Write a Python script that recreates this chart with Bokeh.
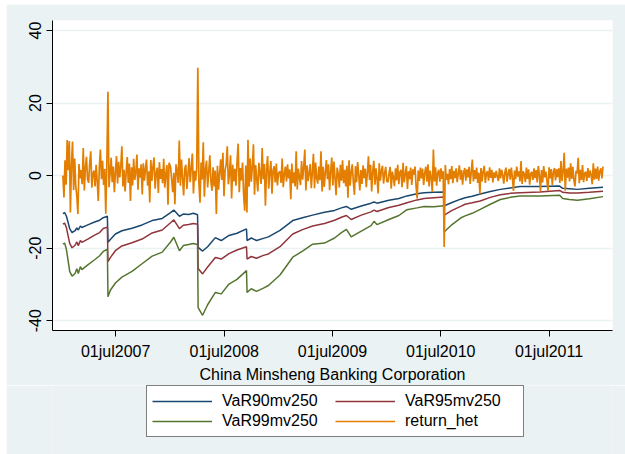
import pandas as pd
from bokeh.plotting import figure
from bokeh.layouts import column
from bokeh.models import ColumnDataSource, Range1d, FixedTicker, Legend, LegendItem
from bokeh.embed import file_html
from bokeh.resources import INLINE

# Heteroskedastic daily returns (%), one list per calendar year,
# each spread evenly between the first and last trading day listed.
ret_2007_span = ("2007-01-04", "2007-12-28")
ret_2007 = [0.0, -6.0, 4.2, -2.5, 9.8, 1.5, 9.5, -10.2, 3.0, 9.4,
            -4.0, 4.7, -3.0, -5.6, -10.6, 3.2, -0.8, 1.5, -2.4, 7.6,
            -4.1, 2.2, 5.2, -1.0, -2.0, 3.4, 6.7, -3.3, 0.5, 1.4,
            -3.0, 3.0, -1.5, -7.0, 2.4, 7.2, -1.0, 4.1, -2.6, 1.8,
            -10.5, 3.5, 23.1, -3.2, 0.6, 4.9, -1.8, 2.5, -4.6, 1.0,
            5.4, -2.2, 3.8, -0.5, 2.6, 8.1, -3.0, 1.6, -4.4, 0.9,
            5.1, -2.0, 3.3, -7.0, 2.3, -2.7, 4.6, -1.2, 0.8, 5.8,
            -3.9, 2.0, -0.6, 3.1, -5.2, 3.4, -1.4, 1.9, 4.4, -2.8,
            1.2, -7.4, 4.3, -1.5, 2.6, 5.0, -3.6, 0.7, 2.2, -4.8,
            3.7, -0.9, 1.8, -2.1, 4.6, -3.3, 0.4, 2.9, -8.0, 3.5]

ret_2008_span = ("2008-01-02", "2008-12-31")
ret_2008 = [2.4, -1.0, -4.6, 0.8, -7.9, 3.1, 1.2, -2.0, 9.7, -2.8,
            4.4, -0.6, -5.5, 1.9, 3.0, -3.7, 0.5, 4.8, -1.8, 2.2,
            6.1, -4.9, 1.3, -1.4, 2.0, 29.7, -2.0, -7.5, 3.6, -1.1,
            9.2, -5.8, 1.7, 4.1, -3.3, 0.9, 5.6, -1.5, -4.2, 2.3,
            -3.0, 1.4, -10.6, 2.7, -3.9, 0.6, 4.5, -1.2, 6.3, -5.7,
            1.5, 3.0, 8.1, -2.4, 0.3, 5.6, -6.3, 3.0, -1.6, 1.9,
            -2.8, 4.0, 8.8, -4.6, 2.1, -1.3, 3.6, -5.2, -9.7, 2.8,
            -10.2, 9.9, -3.1, 4.7, -1.7, 2.5, 8.6, -5.3, 2.9, -0.8,
            -4.4, 3.5, 0.6, -2.3, 7.6, -1.0, 3.2, -8.3, 1.8, 5.4,
            -3.6, 0.9, 4.0, -5.0, 1.4, 2.6, -1.9, 3.3, -2.7, 0.7]

ret_2009_span = ("2009-01-05", "2009-12-31")
ret_2009 = [1.2, -2.0, 4.7, -3.2, 0.4, 2.5, -1.6, 3.1, -0.8, 1.7,
            -6.5, 3.3, -2.1, 0.9, -3.0, 6.7, -3.8, 1.9, -0.4, -2.6,
            4.0, -1.1, 2.3, 7.2, -4.1, 2.8, -1.5, 0.6, 3.2, -3.5,
            1.0, 6.0, -3.5, 3.6, -0.7, -2.2, 2.5, -1.3, 6.7, -4.4,
            2.4, -3.1, 0.8, 4.3, -1.0, 3.1, -4.0, 1.2, 5.0, -2.7,
            3.9, -0.6, -5.4, 2.2, 0.5, -3.3, 3.0, -1.4, 4.2, -2.1,
            1.6, -3.0, 2.7, -6.1, 4.2, -2.8, 0.9, 3.1, -1.9, -5.3,
            2.6, -1.8, 3.7, 0.2, -4.1, 1.5, -2.3, 2.8, -0.7, 1.9,
            -3.2, 0.8, 5.3, -1.2, 3.0, -4.4, 1.1, 4.1, -2.5, 2.0,
            -0.9, -4.9, 3.4, -1.4, 1.3, 2.7, -2.2, 0.6, 2.4, -1.6]

ret_2010_span = ("2010-01-04", "2010-12-31")
ret_2010 = [-1.8, 0.6, 2.4, -3.6, 1.1, -0.5, -2.9, 2.0, -1.3, 3.0,
            -2.4, 0.9, 1.6, -3.2, 3.5, -1.9, 0.4, 2.6, -3.7, 1.2,
            -1.0, 2.2, -2.6, 1.7, 0.3, 2.5, -3.0, -6.3, 1.4, -1.5,
            2.2, -0.8, 1.9, -2.6, 0.7, 2.5, -1.7, 3.1, -3.0, 1.4,
            -0.6, -4.5, 7.2, -1.6, 2.3, -2.8, 0.8, 1.6, -1.7, 2.0,
            -0.9, 1.2, -19.7, 2.9, -1.2, 0.5, -2.4, 1.8, -1.0, 2.6,
            -2.1, 1.3, -0.7, 2.0, -1.8, 0.6, 2.8, -1.1, 1.5, -2.5,
            0.9, 2.1, -1.4, 1.7, -0.5, 2.4, -2.3, 1.0, 4.4, -1.6,
            1.5, -0.9, 2.2, -2.0, 0.8, -5.1, 2.1, -1.6, 1.1, 2.7,
            -2.0, 0.6, 1.2, -1.4, 2.3, -0.6, 1.6, -1.9, 0.9, -0.6]

ret_2011_span = ("2011-01-04", "2011-12-30")
ret_2011 = [1.3, -0.4, -1.5, 2.0, -0.8, 1.6, 0.2, -2.2, 0.9, 2.2,
            -1.7, 0.5, 1.8, -1.1, 2.2, -0.6, -4.2, 1.4, -1.0, 2.5,
            -0.3, 1.2, -1.6, 4.0, -2.3, 1.2, 0.4, -1.8, 2.2, -0.9,
            1.7, -2.5, 0.6, 1.0, -1.2, 2.0, -0.7, 1.5, -1.9, 2.6,
            0.3, -4.3, 1.5, -1.9, 2.6, -0.5, 1.1, -1.4, -4.2, 2.3,
            -0.8, 1.8, -2.6, 1.0, 2.1, -1.3, 1.8, -0.4, 2.0, -2.0,
            4.0, -1.5, 1.2, 6.3, -4.2, 1.9, -0.6, 2.2, -1.6, 3.4,
            -0.9, 2.4, -1.2, -3.0, 1.3, 0.6, 4.9, -2.1, 1.6, -1.2,
            2.9, -1.8, 0.7, 1.0, -1.5, 2.1, -0.6, 1.4, 0.2, -2.4,
            3.4, -1.1, 1.9, -0.9, 2.5, -1.4, 1.2, 2.0, -0.8, 2.5]

# Moving-window (250 days) Value-at-Risk at 90/95/99 %
var_dates = [
    "2007-01-04", "2007-01-10", "2007-01-16", "2007-01-27", "2007-02-04",
    "2007-02-14", "2007-02-20", "2007-02-25", "2007-03-04", "2007-03-09",
    "2007-03-29", "2007-04-21", "2007-05-08", "2007-05-20", "2007-06-03",
    "2007-06-05", "2007-06-13", "2007-06-30", "2007-07-22", "2007-08-25",
    "2007-09-28", "2007-11-01", "2007-12-05", "2008-01-02", "2008-01-13",
    "2008-02-01", "2008-02-14", "2008-03-03", "2008-03-19", "2008-04-02",
    "2008-04-04", "2008-04-19", "2008-05-06", "2008-06-01", "2008-06-21",
    "2008-07-17", "2008-08-13", "2008-09-14", "2008-09-16", "2008-09-30",
    "2008-10-18", "2008-11-10", "2008-11-27", "2009-01-05", "2009-02-17",
    "2009-03-22", "2009-04-25", "2009-06-04", "2009-07-08", "2009-07-31",
    "2009-08-17", "2009-09-02", "2009-10-06", "2009-11-08", "2009-11-18",
    "2009-11-28", "2010-01-07", "2010-02-10", "2010-03-09", "2010-04-12",
    "2010-05-06", "2010-06-08", "2010-07-11", "2010-07-13", "2010-08-08",
    "2010-09-06", "2010-09-21", "2010-10-15", "2010-11-11", "2010-12-15",
    "2011-01-18", "2011-02-20", "2011-03-25", "2011-05-31", "2011-08-06",
    "2011-08-16", "2011-09-08", "2011-10-05", "2011-11-14", "2011-12-30",
]
var90 = [
    -10.5, -10.2, -11.2, -14.6, -15.7, -15.2, -14.4, -15.0, -13.9, -14.3,
    -13.6, -12.8, -12.3, -11.6, -11.2, -18.4, -17.6, -16.1, -15.2, -14.5,
    -13.6, -12.4, -11.8, -10.2, -9.5, -11.2, -10.6, -10.7, -10.4, -10.8,
    -19.8, -20.8, -19.6, -17.1, -17.9, -16.5, -15.9, -14.7, -17.9, -17.2,
    -17.9, -17.3, -16.9, -15.1, -12.4, -11.6, -10.9, -10.1, -9.6, -8.9,
    -8.5, -9.3, -8.4, -7.6, -7.3, -7.6, -6.8, -6.3, -5.6, -5.0,
    -4.7, -4.6, -4.5, -8.3, -7.4, -6.5, -6.1, -5.7, -5.1, -4.4,
    -3.8, -3.4, -3.0, -3.0, -2.9, -3.5, -3.6, -3.8, -3.5, -3.2,
]
var95 = [
    -13.4, -13.1, -14.4, -18.7, -19.9, -19.2, -18.3, -19.3, -17.9, -18.4,
    -17.5, -16.4, -15.7, -14.6, -14.2, -23.7, -22.6, -20.7, -19.4, -18.5,
    -17.5, -15.8, -15.0, -13.0, -12.2, -14.6, -13.7, -13.5, -13.2, -13.4,
    -25.6, -27.1, -25.2, -22.6, -23.0, -21.5, -20.5, -19.6, -23.0, -22.3,
    -22.8, -22.0, -21.6, -19.6, -16.1, -14.9, -13.9, -13.2, -12.3, -11.5,
    -11.0, -12.1, -10.9, -10.0, -9.5, -9.9, -8.8, -8.2, -7.5, -6.7,
    -6.3, -6.1, -5.9, -10.9, -9.6, -8.5, -7.9, -7.5, -7.0, -6.0,
    -5.3, -4.9, -4.7, -4.5, -4.1, -4.6, -4.8, -4.8, -4.6, -4.3,
]
var99 = [
    -18.9, -18.6, -20.4, -26.4, -27.7, -27.0, -25.7, -27.0, -25.1, -25.9,
    -24.6, -23.2, -22.1, -20.9, -20.3, -33.4, -31.6, -29.6, -28.0, -26.4,
    -24.3, -22.2, -21.1, -18.3, -17.0, -20.7, -19.3, -19.0, -18.7, -19.0,
    -36.4, -38.5, -35.6, -32.2, -32.6, -29.9, -28.6, -26.2, -32.2, -31.2,
    -31.9, -31.0, -30.3, -27.4, -22.5, -20.8, -18.9, -18.6, -17.2, -15.7,
    -14.8, -16.9, -15.3, -13.8, -12.6, -13.5, -12.1, -11.0, -9.4, -8.9,
    -8.5, -8.6, -8.3, -15.5, -13.5, -11.7, -11.1, -10.4, -9.3, -7.9,
    -6.6, -6.0, -5.6, -5.6, -5.4, -6.3, -6.6, -6.8, -6.4, -5.8,
]

series_labels = ["VaR90mv250", "VaR95mv250", "VaR99mv250", "return_het"]
series_colors = ["#1A476F", "#90353B", "#55752F", "#E37E00"]

tick_dates = ["2007-07-01", "2008-07-01", "2009-07-01", "2010-07-01", "2011-07-01"]
tick_labels = ["01jul2007", "01jul2008", "01jul2009", "01jul2010", "01jul2011"]
y_ticks = [-40, -20, 0, 20, 40]
y_tick_labels = ["-40", "-20", "0", "20", "40"]
x_limits = ("2006-11-30", "2012-01-31")

EPOCH = pd.Timestamp("1970-01-01")


def to_ms(dates):
    idx = pd.DatetimeIndex(pd.to_datetime(dates))
    return [int((d - EPOCH) / pd.Timedelta(milliseconds=1)) for d in idx]


ret_x, ret_y = [], []
for span, vals in [(ret_2007_span, ret_2007), (ret_2008_span, ret_2008),
                   (ret_2009_span, ret_2009), (ret_2010_span, ret_2010),
                   (ret_2011_span, ret_2011)]:
    ret_x += to_ms(pd.date_range(span[0], span[1], periods=len(vals)))
    ret_y += vals

var_src = ColumnDataSource(dict(x=to_ms(var_dates), v90=var90, v95=var95, v99=var99))
ret_src = ColumnDataSource(dict(x=ret_x, y=ret_y))

FONT = "Liberation Sans"
BG = "#EAF2F3"

# ---- main time-series panel ----
xl = to_ms(list(x_limits))
p = figure(width=619, height=381, output_backend="svg", toolbar_location=None,
           x_range=Range1d(xl[0], xl[1]), y_range=Range1d(-42.7, 42.75),
           min_border_left=46, min_border_right=13, min_border_top=16,
           min_border_bottom=53, background_fill_color="white",
           border_fill_color=BG, outline_line_color=None)

tick_ms = to_ms(tick_dates)
p.xaxis.ticker = FixedTicker(ticks=tick_ms)
p.xaxis.major_label_overrides = dict(zip(tick_ms, tick_labels))
p.yaxis.ticker = FixedTicker(ticks=y_ticks)
p.yaxis.major_label_overrides = dict(zip(y_ticks, y_tick_labels))
p.yaxis.major_label_orientation = "vertical"

for ax in (p.xaxis[0], p.yaxis[0]):
    ax.axis_line_color = "black"
    ax.axis_line_width = 1
    ax.major_tick_line_color = "black"
    ax.major_tick_out = 6
    ax.major_tick_in = 0
    ax.minor_tick_line_color = None
    ax.major_label_text_font = FONT
    ax.major_label_text_font_size = "16px"
    ax.major_label_text_color = "black"
    ax.major_label_standoff = 5
p.xaxis.major_label_standoff = 6

p.xaxis.axis_label = "China Minsheng Banking Corporation"
p.xaxis.axis_label_text_font = FONT
p.xaxis.axis_label_text_font_size = "16px"
p.xaxis.axis_label_text_font_style = "normal"
p.xaxis.axis_label_text_color = "black"
p.xaxis.axis_label_standoff = 3

p.xgrid.grid_line_color = None
p.ygrid.grid_line_color = BG
p.ygrid.grid_line_width = 1.5

p.line("x", "v90", source=var_src, line_color=series_colors[0], line_width=1.5)
p.line("x", "v95", source=var_src, line_color=series_colors[1], line_width=1.5)
p.line("x", "v99", source=var_src, line_color=series_colors[2], line_width=1.5)
p.line("x", "y", source=ret_src, line_color=series_colors[3], line_width=1.7)

# ---- key strip underneath, two columns ----
k = figure(width=619, height=69, output_backend="svg", toolbar_location=None,
           x_range=Range1d(0, 1), y_range=Range1d(0, 1),
           x_axis_type=None, y_axis_type=None,
           min_border_left=0, min_border_right=0, min_border_top=0,
           min_border_bottom=0, background_fill_color=BG,
           border_fill_color=BG, outline_line_color=None)
k.xgrid.grid_line_color = None
k.ygrid.grid_line_color = None

# swatch renderers for the key; their points lie off the strip's range
items = []
for lab, col in zip(series_labels, series_colors):
    r = k.line(x=[5, 6], y=[5, 6], line_color=col, line_width=1.5)
    items.append(LegendItem(label=lab, renderers=[r]))

legend = Legend(
    items=items, orientation="horizontal", ncols=2, location=(94, 17),
    border_line_color="black", border_line_width=1,
    background_fill_color="white", background_fill_alpha=1,
    padding=5, spacing=0, margin=0,
    glyph_width=60, glyph_height=20, label_height=20, label_width=113,
    label_standoff=10, label_text_font=FONT, label_text_font_size="16px",
    label_text_color="black",
)
k.add_layout(legend, "center")

page = column(p, k, spacing=0)
page.margin = (4, 0, 0, 6)

open("out.html", "w").write(file_html(page, INLINE))
